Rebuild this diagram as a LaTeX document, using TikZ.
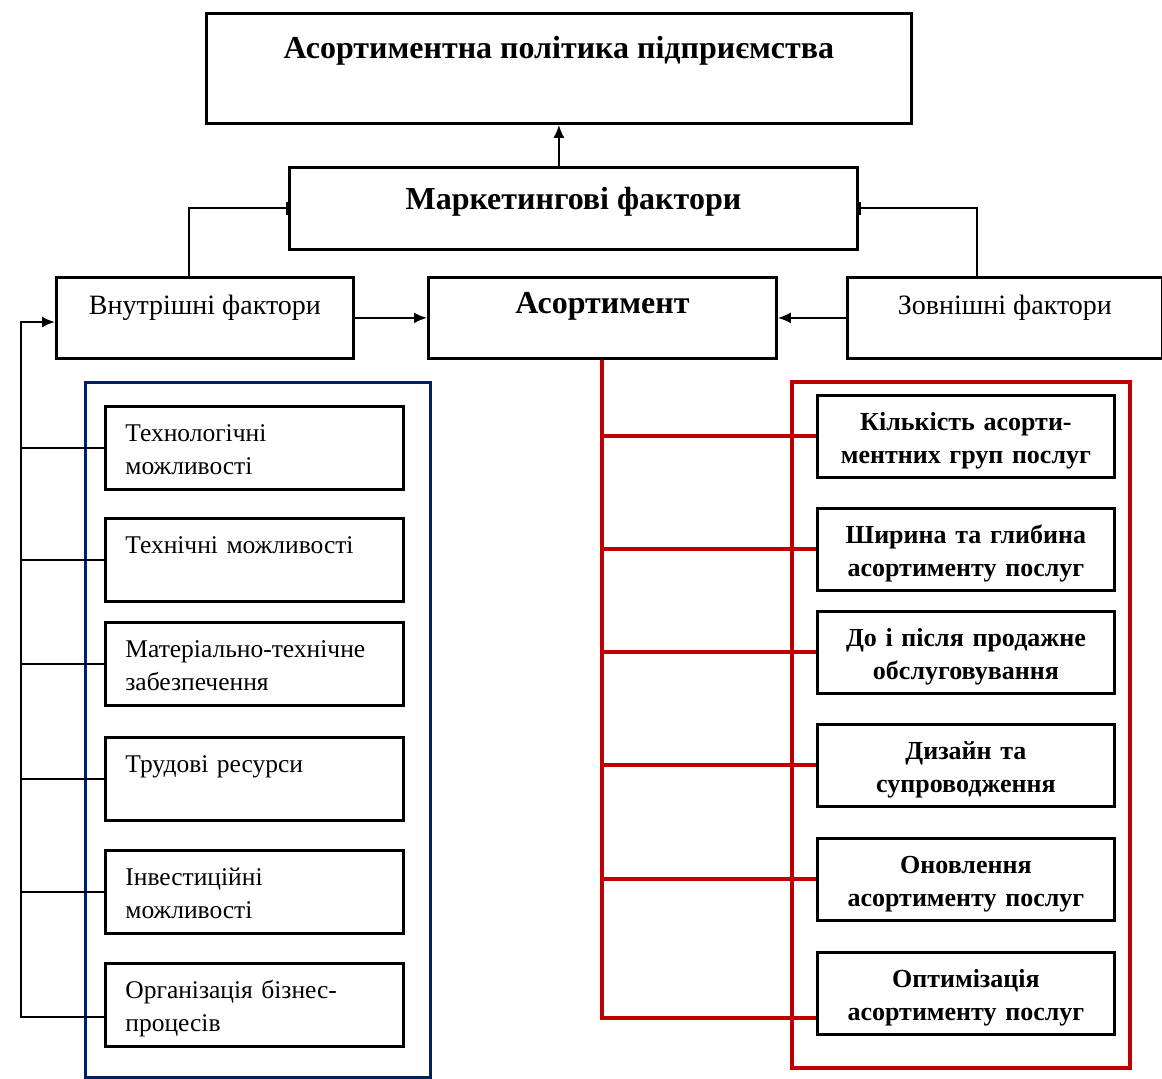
\documentclass[tikz,border=0pt]{standalone}
\usepackage{fontspec}
\setmainfont{Liberation Serif}
\usepackage{tikz}
\usetikzlibrary{arrows.meta}
\definecolor{navy}{RGB}{0,32,96}
\definecolor{darkred}{RGB}{192,0,0}
\def \bw {2.8pt}
\tikzstyle{box} = [draw,line width=\bw,rectangle,inner sep=0,anchor=north west]
\tikzstyle{head} = [box,font=\fontsize{32}{38}\selectfont\bfseries]
\tikzstyle{factor} = [box,font=\fontsize{28}{34}\selectfont]
\tikzstyle{item} = [box,minimum width=298pt,minimum height=83pt,text width=258pt,inner xsep=20pt,align=left,text height=35pt,text depth=48pt,font=\fontsize{25.5}{33}\selectfont]
\tikzstyle{group} = [box,minimum width=297pt,minimum height=82pt,text width=290pt,align=center,text height=35pt,text depth=47pt,font=\fontsize{26}{33}\selectfont\bfseries]
\tikzstyle{index} = [-,line width=2pt]
\tikzstyle{arrow} = [-{Latex[length=13pt,width=11pt]},line width=2pt]
\tikzstyle{barline} = [-{Bar[width=13pt,line width=2pt]},line width=2pt]
\tikzstyle{redline} = [-,line width=4pt,darkred]

\begin{document}
\begin{tikzpicture}[x=1pt,y=-1pt]
  \useasboundingbox (0,0) rectangle (1162,1079);
  % top level
  \node[head,minimum width=705pt,minimum height=110pt,text height=45pt,text depth=65pt] (policy) at (205,12) {Асортиментна політика підприємства};
  \node[head,minimum width=568pt,minimum height=82pt,text height=42pt,text depth=40pt] (market) at (288,166) {Маркетингові фактори};
  \node[factor,minimum width=297pt,minimum height=81pt,text height=37pt,text depth=44pt] (inner) at (55,276) {Внутрішні фактори};
  \node[head,minimum width=348pt,minimum height=81pt,text height=36pt,text depth=45pt] (asort) at (427,276) {Асортимент};
  \node[factor,minimum width=315pt,minimum height=81pt,text height=37pt,text depth=44pt] (outer) at (846,276) {Зовнішні фактори};
  \draw[arrow] (market.north -| policy.south) -- (policy.south);
  \draw[barline] ([xshift=-16pt]inner.north) |- (market.west);
  \draw[barline] ([xshift=-28pt]outer.north) |- (market.east);
  \draw[arrow] (inner.east) -- (asort.west);
  \draw[arrow] (outer.west) -- (asort.east);

  % internal factors
  \draw[line width=3pt,navy] (85,382) rectangle (430,1077);
  \node[item] (lb1) at (104,405) {Технологічні\\можливості};
  \node[item] (lb2) at (104,517) {Технічні можливості};
  \node[item] (lb3) at (104,621) {Матеріально-технічне\\забезпечення};
  \node[item] (lb4) at (104,736) {Трудові ресурси};
  \node[item] (lb5) at (104,849) {Інвестиційні\\можливості};
  \node[item] (lb6) at (104,962) {Організація бізнес-\\процесів};
  \coordinate (lspine) at (21,322);
  \draw[arrow] ([yshift=-12pt]lb6.west) -| (lspine) -- (lspine -| inner.west);
  \draw[index] (lb1.west) -- (lb1.west -| lspine);
  \draw[index] (lb2.west) -- (lb2.west -| lspine);
  \draw[index] (lb3.west) -- (lb3.west -| lspine);
  \draw[index] (lb4.west) -- (lb4.west -| lspine);
  \draw[index] (lb5.west) -- (lb5.west -| lspine);

  % assortment groups
  \draw[line width=4pt,darkred] (792,382) rectangle (1130,1068);
  \node[group] (rb1) at (816,394) {Кількість асорти-\\ментних груп послуг};
  \node[group] (rb2) at (816,507) {Ширина та глибина\\асортименту послуг};
  \node[group] (rb3) at (816,610) {До і після продажне\\обслуговування};
  \node[group] (rb4) at (816,723) {Дизайн та\\супроводження};
  \node[group] (rb5) at (816,837) {Оновлення\\асортименту послуг};
  \node[group] (rb6) at (816,951) {Оптимізація\\асортименту послуг};
  \draw[redline] (asort.south) |- ([yshift=-25pt]rb6.west);
  \draw[redline] (rb1.west) -- (rb1.west -| asort.south);
  \draw[redline] (rb2.west) -- (rb2.west -| asort.south);
  \draw[redline] (rb3.west) -- (rb3.west -| asort.south);
  \draw[redline] (rb4.west) -- (rb4.west -| asort.south);
  \draw[redline] (rb5.west) -- (rb5.west -| asort.south);
\end{tikzpicture}
\end{document}
